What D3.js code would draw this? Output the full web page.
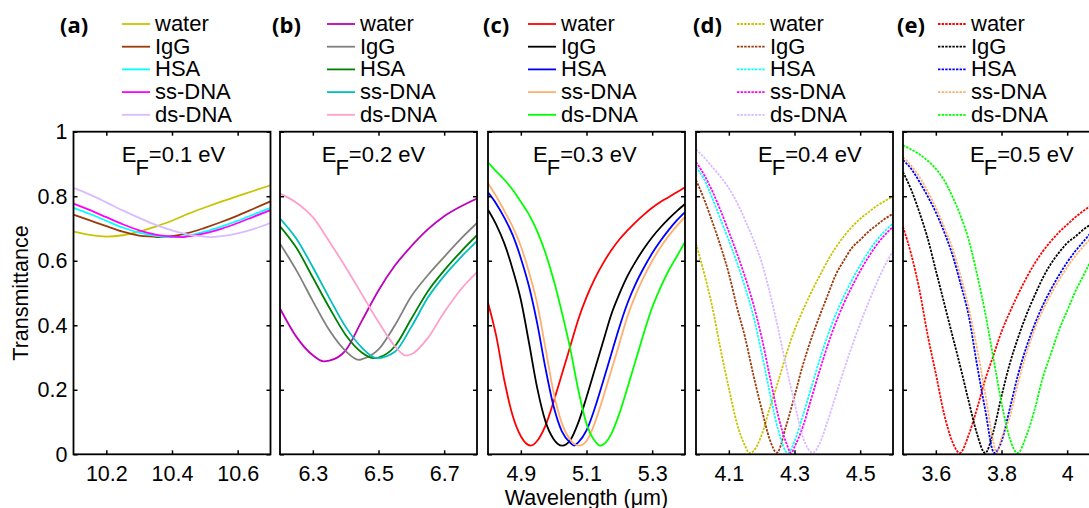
<!DOCTYPE html>
<html>
<head>
<meta charset="utf-8">
<script src="https://cdn.jsdelivr.net/npm/d3@7"></script>
<style>
  body { margin: 0; background: #fff; }
  svg text { font-family: "Liberation Sans", Arial, sans-serif; }
</style>
</head>
<body>
<div id="chart"></div>
<script>
// ---- data ----
var seriesNames = ["water", "IgG", "HSA", "ss-DNA", "ds-DNA"];
var panelLabels = ["(a)", "(b)", "(c)", "(d)", "(e)"];
var fermiLevels = ["0.1", "0.2", "0.3", "0.4", "0.5"];
var xDomains = [[10.1, 10.7], [6.2, 6.8], [4.8, 5.4], [4.0, 4.6], [3.5, 4.1]];
var xTicks = [[10.2, 10.4, 10.6], [6.3, 6.5, 6.7], [4.9, 5.1, 5.3], [4.1, 4.3, 4.5], [3.6, 3.8, 4]];
var yTicks = [0, 0.2, 0.4, 0.6, 0.8, 1];

// (a) EF = 0.1 eV
var wlA = [10.1, 10.15, 10.2, 10.25, 10.3, 10.35, 10.4, 10.45, 10.5, 10.55, 10.6, 10.65, 10.7];
var aWater = [0.690, 0.680, 0.676, 0.679, 0.690, 0.706, 0.724, 0.746, 0.765, 0.783, 0.800, 0.817, 0.834];
var aIgG   = [0.743, 0.725, 0.707, 0.690, 0.678, 0.674, 0.676, 0.686, 0.702, 0.720, 0.740, 0.762, 0.784];
var aHSA   = [0.764, 0.745, 0.724, 0.703, 0.687, 0.677, 0.674, 0.678, 0.690, 0.706, 0.724, 0.744, 0.764];
var aSsDNA = [0.777, 0.757, 0.735, 0.713, 0.694, 0.681, 0.675, 0.676, 0.685, 0.699, 0.717, 0.737, 0.757];
var aDsDNA = [0.826, 0.805, 0.781, 0.756, 0.733, 0.711, 0.694, 0.681, 0.675, 0.676, 0.685, 0.699, 0.717];
var dipA = [10.2, 10.36, 10.40, 10.43, 10.52];
var dipValA = [0.675, 0.673, 0.673, 0.673, 0.673];

// (b) EF = 0.2 eV
var wlB = [6.2, 6.25, 6.3, 6.35, 6.4, 6.45, 6.5, 6.55, 6.6, 6.65, 6.7, 6.75, 6.8];
var bWater = [0.452, 0.364, 0.307, 0.290, 0.322, 0.415, 0.508, 0.585, 0.645, 0.697, 0.738, 0.768, 0.793];
var bIgG   = [0.653, 0.570, 0.475, 0.385, 0.320, 0.295, 0.325, 0.400, 0.490, 0.555, 0.612, 0.667, 0.717];
var bHSA   = [0.707, 0.640, 0.548, 0.455, 0.370, 0.315, 0.300, 0.335, 0.420, 0.505, 0.570, 0.627, 0.679];
var bSsDNA = [0.731, 0.668, 0.580, 0.485, 0.395, 0.330, 0.300, 0.318, 0.395, 0.485, 0.553, 0.610, 0.661];
var bDsDNA = [0.808, 0.780, 0.735, 0.660, 0.580, 0.495, 0.410, 0.335, 0.310, 0.360, 0.440, 0.510, 0.565];
var dipB = [6.333, 6.44, 6.485, 6.495, 6.583];
var dipValB = [0.288, 0.293, 0.298, 0.298, 0.306];

// (c) EF = 0.3 eV
var wlC = [4.8, 4.825, 4.85, 4.875, 4.9, 4.925, 4.95, 4.975, 5.0, 5.025, 5.05, 5.075, 5.1,
           5.125, 5.15, 5.175, 5.2, 5.225, 5.25, 5.275, 5.3, 5.325, 5.35, 5.375, 5.4];
var cWater = [0.470, 0.367, 0.228, 0.120, 0.056, 0.031, 0.042, 0.089, 0.164, 0.248, 0.333, 0.418, 0.487,
              0.544, 0.591, 0.632, 0.666, 0.694, 0.720, 0.743, 0.764, 0.782, 0.797, 0.812, 0.828];
var cIgG   = [0.758, 0.712, 0.653, 0.574, 0.479, 0.345, 0.205, 0.102, 0.047, 0.028, 0.043, 0.098, 0.177,
              0.262, 0.347, 0.432, 0.497, 0.553, 0.598, 0.638, 0.673, 0.703, 0.730, 0.754, 0.776];
var cHSA   = [0.812, 0.777, 0.733, 0.680, 0.608, 0.520, 0.405, 0.267, 0.148, 0.071, 0.036, 0.037, 0.074,
              0.142, 0.224, 0.309, 0.394, 0.469, 0.529, 0.579, 0.623, 0.661, 0.695, 0.725, 0.751];
var cSsDNA = [0.840, 0.800, 0.754, 0.706, 0.645, 0.564, 0.466, 0.329, 0.191, 0.096, 0.046, 0.029, 0.041,
              0.096, 0.174, 0.258, 0.343, 0.428, 0.495, 0.551, 0.599, 0.641, 0.677, 0.708, 0.736];
var cDsDNA = [0.905, 0.877, 0.851, 0.820, 0.783, 0.743, 0.691, 0.624, 0.540, 0.440, 0.330, 0.200, 0.095,
              0.042, 0.030, 0.062, 0.126, 0.207, 0.292, 0.377, 0.455, 0.516, 0.569, 0.613, 0.658];
var dipC = [4.93, 5.026, 5.062, 5.077, 5.142];
var dipValC = [0.027, 0.027, 0.027, 0.027, 0.027];

// (d) EF = 0.4 eV
var wlD = [4.0, 4.025, 4.05, 4.075, 4.1, 4.125, 4.15, 4.175, 4.2, 4.225, 4.25, 4.275, 4.3,
           4.325, 4.35, 4.375, 4.4, 4.425, 4.45, 4.475, 4.5, 4.525, 4.55, 4.575, 4.6];
var dWater = [0.653, 0.560, 0.455, 0.325, 0.205, 0.095, 0.025, 0.010, 0.060, 0.145, 0.225, 0.310, 0.385,
              0.445, 0.500, 0.550, 0.598, 0.640, 0.675, 0.705, 0.730, 0.750, 0.770, 0.785, 0.800];
var dIgG   = [0.850, 0.790, 0.720, 0.645, 0.560, 0.455, 0.360, 0.245, 0.140, 0.045, 0.008, 0.090, 0.180,
              0.275, 0.355, 0.425, 0.490, 0.555, 0.600, 0.640, 0.665, 0.690, 0.710, 0.730, 0.745];
var dHSA   = [0.891, 0.852, 0.793, 0.728, 0.663, 0.594, 0.516, 0.428, 0.314, 0.190, 0.077, 0.015, 0.041,
              0.118, 0.203, 0.288, 0.365, 0.432, 0.489, 0.540, 0.586, 0.627, 0.663, 0.692, 0.715];
var dSsDNA = [0.906, 0.866, 0.815, 0.755, 0.690, 0.622, 0.548, 0.464, 0.362, 0.240, 0.121, 0.035, 0.023,
              0.084, 0.169, 0.254, 0.335, 0.406, 0.467, 0.520, 0.568, 0.611, 0.649, 0.680, 0.705];
var dDsDNA = [0.945, 0.920, 0.890, 0.860, 0.825, 0.780, 0.725, 0.665, 0.595, 0.500, 0.390, 0.270, 0.160,
              0.055, 0.008, 0.030, 0.100, 0.180, 0.260, 0.335, 0.405, 0.470, 0.530, 0.585, 0.630];
var dipD = [4.163, 4.246, 4.28, 4.29, 4.356];
var dipValD = [0.004, 0.005, 0.004, 0.004, 0.005];

// (e) EF = 0.5 eV
var wlE = [3.5, 3.525, 3.55, 3.575, 3.6, 3.625, 3.65, 3.675, 3.7, 3.725, 3.75, 3.775, 3.8,
           3.825, 3.85, 3.875, 3.9, 3.925, 3.95, 3.975, 4.0, 4.025, 4.05, 4.075, 4.1];
var eWater = [0.705, 0.620, 0.510, 0.370, 0.250, 0.126, 0.040, 0.005, 0.060, 0.140, 0.230, 0.305, 0.380,
              0.440, 0.495, 0.545, 0.590, 0.628, 0.660, 0.688, 0.712, 0.735, 0.755, 0.773, 0.790];
var eIgG   = [0.875, 0.820, 0.750, 0.670, 0.570, 0.470, 0.370, 0.270, 0.165, 0.065, 0.005, 0.070, 0.180,
              0.280, 0.360, 0.430, 0.490, 0.545, 0.590, 0.625, 0.655, 0.675, 0.697, 0.715, 0.732];
var eHSA   = [0.912, 0.885, 0.845, 0.800, 0.750, 0.690, 0.620, 0.530, 0.430, 0.280, 0.140, 0.012, 0.040,
              0.140, 0.245, 0.330, 0.400, 0.460, 0.510, 0.555, 0.595, 0.630, 0.660, 0.690, 0.715];
var eSsDNA = [0.920, 0.895, 0.860, 0.815, 0.765, 0.705, 0.640, 0.555, 0.455, 0.330, 0.190, 0.040, 0.050,
              0.115, 0.220, 0.310, 0.385, 0.445, 0.495, 0.540, 0.580, 0.615, 0.645, 0.672, 0.695];
var eDsDNA = [0.958, 0.945, 0.930, 0.910, 0.885, 0.850, 0.800, 0.740, 0.665, 0.560, 0.440, 0.300, 0.160,
              0.050, 0.005, 0.055, 0.135, 0.235, 0.310, 0.385, 0.445, 0.505, 0.555, 0.605, 0.645];
var dipE = [3.673, 3.75, 3.778, 3.785, 3.849];
var dipValE = [0.004, 0.004, 0.004, 0.004, 0.004];

// colours per panel
var coloursAD = ["#c8c400", "#9c3a0a", "#00ffff", "#ff00ff", "#d9bbff"];
var coloursB  = ["#bf00bf", "#808080", "#008000", "#00bfbf", "#ff9fcb"];
var coloursCE = ["#ff0000", "#000000", "#0000ff", "#ffb06e", "#00ff00"];

var panels = [
  {wl: wlA, series: [aWater, aIgG, aHSA, aSsDNA, aDsDNA], dips: dipA, dipVals: dipValA, colors: coloursAD, dotted: false},
  {wl: wlB, series: [bWater, bIgG, bHSA, bSsDNA, bDsDNA], dips: dipB, dipVals: dipValB, colors: coloursB, dotted: false},
  {wl: wlC, series: [cWater, cIgG, cHSA, cSsDNA, cDsDNA], dips: dipC, dipVals: dipValC, colors: coloursCE, dotted: false},
  {wl: wlD, series: [dWater, dIgG, dHSA, dSsDNA, dDsDNA], dips: dipD, dipVals: dipValD, colors: coloursAD, dotted: true},
  {wl: wlE, series: [eWater, eIgG, eHSA, eSsDNA, eDsDNA], dips: dipE, dipVals: dipValE, colors: coloursCE, dotted: true}
];

// ---- layout ----
var width = 1089, height = 508;
var plotTop = 131.7, plotBottom = 454.3, panelW = 197;
var panelLeft = [73.5, 280, 488, 696, 903];
var labelX = [60, 272, 483, 693, 897];
var legendX = [122, 327, 528, 737, 938];
var efX = [121.7, 321.7, 533, 758, 970];

var svg = d3.select("#chart").append("svg")
    .attr("width", width)
    .attr("height", height);

svg.append("rect").attr("width", width).attr("height", height).attr("fill", "#fff");

var y = d3.scaleLinear().domain([0, 1]).range([plotBottom, plotTop]);

panels.forEach(function(p, k) {
  var x0 = panelLeft[k];
  var x = d3.scaleLinear().domain(xDomains[k]).range([x0, x0 + panelW]);
  var g = svg.append("g");

  svg.append("clipPath").attr("id", "clip" + k)
    .append("rect")
      .attr("x", x0).attr("y", plotTop)
      .attr("width", panelW).attr("height", plotBottom - plotTop);

  var line = d3.line()
      .x(function(d) { return x(d[0]); })
      .y(function(d) { return y(d[1]); })
      .curve(d3.curveMonotoneX);

  // curves
  p.series.forEach(function(vals, i) {
    var pts = p.wl.map(function(w, j) { return [w, vals[j]]; })
        .filter(function(q) { return Math.abs(q[0] - p.dips[i]) > 0.007; });
    pts.push([p.dips[i], p.dipVals[i]]);
    pts.sort(function(a, b) { return a[0] - b[0]; });
    g.append("path")
        .datum(pts)
        .attr("d", line)
        .attr("fill", "none")
        .attr("stroke", p.colors[i])
        .attr("stroke-width", 1.8)
        .attr("stroke-dasharray", p.dotted ? "2.4,1.2" : null)
        .attr("clip-path", "url(#clip" + k + ")");
  });

  // axes, ticks pointing inward on all four sides
  var fmt = d3.format("~g");
  var axes = [
    {ax: d3.axisBottom(x).tickValues(xTicks[k]).tickFormat(fmt), t: "translate(0," + plotBottom + ")"},
    {ax: d3.axisTop(x).tickValues(xTicks[k]).tickFormat(""), t: "translate(0," + plotTop + ")"},
    {ax: d3.axisLeft(y).tickValues(yTicks).tickFormat(k === 0 ? fmt : ""), t: "translate(" + x0 + ",0)"},
    {ax: d3.axisRight(y).tickValues(yTicks).tickFormat(""), t: "translate(" + (x0 + panelW) + ",0)"}
  ];
  axes.forEach(function(a, n) {
    var ag = g.append("g")
        .attr("transform", a.t)
        .call(a.ax.tickSize(-4).tickPadding(n === 0 ? 11 : 6));
    ag.select(".domain").remove();
    ag.selectAll("line").attr("stroke-width", 1.5);
    ag.selectAll("text")
        .attr("font-size", 21.5)
        .attr("font-family", "'Liberation Sans', Arial, sans-serif")
        .attr("fill", "#000");
  });

  // frame
  g.append("rect")
      .attr("x", x0).attr("y", plotTop)
      .attr("width", panelW).attr("height", plotBottom - plotTop)
      .attr("fill", "none")
      .attr("stroke", "#000")
      .attr("stroke-width", 1.8);

  // EF annotation (F as a lowered subscript)
  var ef = g.append("text")
      .attr("x", efX[k]).attr("y", 162)
      .attr("font-size", 22);
  ef.append("tspan").text("E");
  ef.append("tspan").attr("dx", -1).attr("dy", 13).text("F");
  ef.append("tspan").attr("dx", 0).attr("dy", -13).text("=" + fermiLevels[k] + " eV");

  // panel label
  g.append("text")
      .attr("x", labelX[k]).attr("y", 32.5)
      .attr("font-size", 22)
      .attr("font-weight", "bold")
      .style("font-family", "'Open Sans', 'DejaVu Sans', sans-serif")
      .text(panelLabels[k]);

  // legend
  seriesNames.forEach(function(name, i) {
    var by = 31 + 22.7 * i;
    g.append("line")
        .attr("x1", legendX[k]).attr("x2", legendX[k] + 28)
        .attr("y1", by - 7).attr("y2", by - 7)
        .attr("stroke", p.colors[i])
        .attr("stroke-width", 1.8)
        .attr("stroke-dasharray", p.dotted ? "2.4,1.2" : null);
    g.append("text")
        .attr("x", legendX[k] + 33).attr("y", by)
        .attr("font-size", 22)
        .text(name);
  });
});

// axis titles
svg.append("text")
    .attr("transform", "translate(28," + ((plotTop + plotBottom) / 2) + ") rotate(-90)")
    .attr("text-anchor", "middle")
    .attr("font-size", 21.5)
    .text("Transmittance");

svg.append("text")
    .attr("x", panelLeft[2] + panelW / 2)
    .attr("y", 504.5)
    .attr("text-anchor", "middle")
    .attr("font-size", 21.5)
    .text("Wavelength (\u03bcm)");
</script>
</body>
</html>
